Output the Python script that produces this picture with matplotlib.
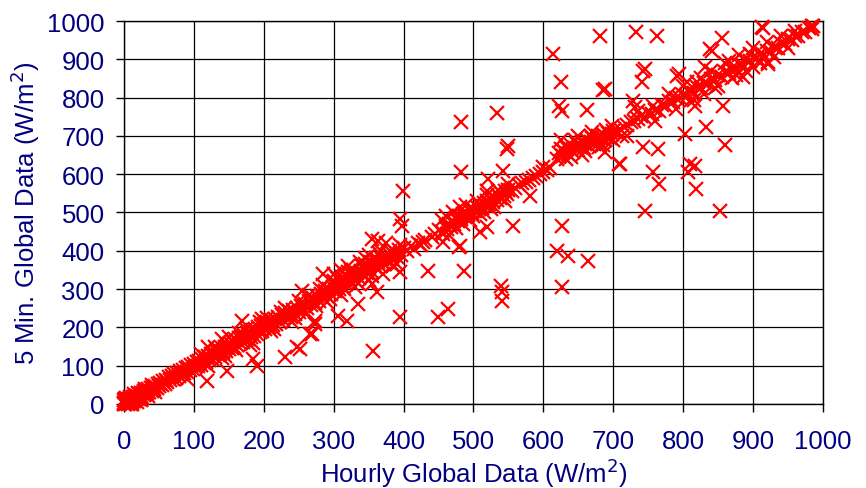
import matplotlib
matplotlib.use('Agg')
from matplotlib import pyplot as plt

# (hourly, 5 min) global irradiance pairs, W/m2
band_low = [
    (0, 2), (1, 5), (2, 0), (3, 8), (4, 3), (5, 10), (6, 4), (7, 12), (8, 6), (9, 2),
    (10, 14), (11, 9), (12, 5), (13, 17), (14, 11), (15, 8), (16, 20), (17, 13), (18, 15),
    (19, 22), (20, 17), (21, 12), (22, 25), (23, 19), (24, 28), (25, 21), (26, 16), (27, 30),
    (28, 24), (29, 33), (30, 26), (32, 35), (33, 28), (35, 38), (36, 31), (38, 42), (40, 35),
    (41, 44), (43, 39), (45, 48), (47, 41), (49, 52), (50, 46), (52, 55), (54, 49), (56, 60),
    (58, 53), (60, 63), (2, 12), (5, 0), (8, 18), (12, 0), (15, 25), (18, 4), (20, 30),
    (25, 10), (30, 40), (35, 22), (40, 50), (45, 32), (0, 0), (0, 10), (3, 15), (10, 0),
]
band_mid = [
    (62, 58), (64, 70), (66, 62), (68, 74), (70, 66), (72, 78), (74, 69), (76, 82), (78, 72),
    (80, 85), (82, 77), (84, 90), (86, 80), (88, 93), (90, 84), (92, 97), (94, 88), (96, 101),
    (98, 92), (100, 105), (102, 96), (104, 110), (106, 100), (108, 113), (110, 103), (112, 118),
    (114, 107), (116, 122), (118, 110), (120, 125), (122, 115), (124, 130), (126, 118),
    (128, 134), (130, 122), (132, 138), (134, 127), (136, 142), (138, 130), (140, 147),
    (142, 135), (144, 150), (146, 138), (148, 155), (150, 143), (152, 160), (154, 147),
    (156, 163), (158, 150), (160, 168), (162, 155), (164, 172), (166, 158), (168, 176),
    (170, 162), (172, 180), (174, 166), (176, 185), (178, 170), (180, 188), (182, 175),
    (184, 192), (186, 178), (188, 196), (190, 183), (192, 200), (194, 187), (196, 204),
    (198, 191), (200, 208), (202, 195), (205, 213), (208, 200), (210, 218), (213, 205),
    (216, 222), (218, 210), (220, 228), (223, 214), (226, 232), (228, 219), (231, 237),
    (234, 224), (236, 242), (239, 228), (242, 246), (245, 234), (248, 250), (250, 240),
    (253, 256), (256, 245), (259, 262), (262, 250), (265, 270), (268, 258), (270, 276),
    (273, 264), (276, 282), (279, 270), (282, 288), (285, 276), (288, 294), (290, 282),
    (293, 300), (296, 288), (299, 305), (302, 294), (305, 312), (308, 300), (310, 318),
    (313, 306), (316, 324), (318, 312), (321, 330), (324, 318), (327, 336), (330, 324),
    (333, 342), (336, 330), (339, 348), (342, 336), (345, 354), (348, 342), (351, 360),
    (354, 348), (357, 366), (360, 354), (363, 372), (366, 360), (369, 378), (372, 366),
    (375, 384), (378, 372), (381, 390), (384, 378), (387, 396), (390, 384), (393, 402),
    (396, 390), (400, 408),
    (110, 130), (120, 100), (140, 120), (150, 175), (160, 140), (175, 195), (185, 160),
    (205, 225), (215, 195), (225, 240), (240, 215), (250, 270), (260, 235), (280, 300),
    (290, 265), (300, 320), (310, 285), (320, 345), (330, 305), (340, 360), (350, 325),
    (360, 380), (370, 340), (380, 400), (390, 365), (120, 150), (140, 170), (300, 340),
    (310, 350), (320, 360), (345, 380), (350, 390), (355, 431), (363, 426), (375, 420),
    (130, 150), (145, 125), (165, 185), (180, 155), (195, 215), (210, 190), (230, 250),
    (245, 225), (265, 285), (275, 255), (285, 310), (295, 275), (305, 330), (315, 300),
    (325, 350), (335, 315), (345, 365), (355, 335), (365, 395), (385, 360), (395, 415),
    (298, 318), (312, 332), (328, 348), (338, 372), (352, 372), (368, 400),
]
band_high = [
    (405, 400), (410, 412), (415, 405), (420, 420), (425, 415), (430, 428), (440, 435),
    (445, 445), (450, 455), (455, 448), (460, 465), (462, 458), (465, 470), (468, 462),
    (470, 478), (472, 470), (475, 485), (478, 478), (480, 490), (482, 483), (485, 495),
    (488, 488), (490, 500), (492, 493), (495, 505), (498, 498), (500, 510), (502, 503),
    (505, 515), (508, 508), (510, 520), (512, 512), (515, 525), (518, 517), (520, 530),
    (522, 522), (525, 535), (528, 528), (530, 540), (533, 533), (535, 545), (538, 538),
    (540, 550), (543, 543), (545, 555), (548, 548), (550, 560), (555, 555), (560, 565),
    (565, 572), (570, 576), (575, 580), (580, 585), (585, 590), (590, 596), (595, 600),
    (600, 605), (605, 612), (610, 615),
    (470, 500), (480, 515), (490, 520), (500, 490), (505, 530), (510, 495), (520, 545),
    (525, 510), (530, 515), (535, 560), (545, 530), (550, 575), (455, 480), (465, 440),
    (475, 460), (485, 470), (495, 480), (515, 500), (460, 490), (520, 555),
    (620, 640), (622, 655), (625, 665), (628, 648), (630, 660), (632, 670), (635, 652),
    (638, 665), (640, 675), (642, 658), (645, 668), (648, 680), (650, 662), (652, 672),
    (655, 685), (658, 668), (660, 678), (662, 690), (665, 673), (668, 683), (670, 695),
    (672, 678), (675, 688), (678, 700), (680, 682), (682, 692), (685, 705), (688, 688),
    (690, 698), (692, 708), (695, 695), (698, 705), (700, 712), (705, 708), (710, 718),
    (715, 722), (720, 728), (725, 735), (730, 740), (735, 745), (740, 752), (745, 748),
    (750, 760), (755, 758), (760, 768), (765, 765), (770, 780), (775, 778), (780, 790),
    (785, 788), (790, 800), (795, 798), (800, 808), (805, 805), (810, 818), (815, 812),
    (820, 828), (825, 825), (830, 838), (835, 835), (840, 848), (845, 845), (850, 858),
    (855, 855), (860, 868), (865, 865), (870, 878), (875, 875), (880, 888), (885, 885),
    (890, 898), (895, 895), (900, 905), (905, 903), (910, 913), (915, 910), (920, 922),
    (925, 920), (930, 932), (935, 930), (940, 942), (945, 940), (950, 952), (955, 950),
    (960, 962), (965, 960), (970, 972), (975, 970), (980, 982), (985, 980),
    (625, 690), (640, 645), (650, 700), (660, 660), (670, 710), (680, 670), (690, 715),
    (700, 690), (720, 700), (735, 765), (760, 740), (780, 810), (790, 770), (800, 830),
    (810, 790), (820, 840), (830, 810), (840, 870), (850, 830), (860, 890), (870, 850),
    (880, 910), (890, 870), (900, 930), (910, 890), (920, 945), (930, 905), (940, 960),
    (950, 930), (960, 975), (900, 880), (880, 865),
    (632, 640), (645, 690), (655, 650), (668, 700), (685, 675), (698, 725), (712, 700),
    (805, 840), (815, 795), (825, 850), (845, 825), (865, 895), (875, 860), (895, 915),
]
outliers = [
    (681, 961), (614, 914), (625, 841), (685, 820), (622, 778), (627, 765), (662, 768),
    (482, 736), (533, 760), (549, 674), (710, 627), (482, 605), (399, 557), (395, 483),
    (398, 465), (435, 348), (486, 348), (557, 465), (627, 465), (619, 400), (635, 387),
    (664, 374), (539, 308), (541, 292), (627, 305), (481, 413), (457, 422), (509, 448),
    (521, 587), (542, 608), (732, 971), (762, 961), (855, 955), (914, 981), (985, 987),
    (841, 922), (745, 875), (741, 841), (794, 862), (831, 879), (921, 893), (886, 853),
    (688, 822), (728, 791), (731, 775), (757, 778), (817, 777), (857, 778), (803, 705),
    (833, 723), (860, 676), (743, 670), (764, 666), (688, 657), (708, 627), (757, 605),
    (766, 574), (810, 627), (817, 621), (807, 605), (818, 561), (745, 504), (853, 504),
    (548, 665), (395, 345), (541, 269), (464, 248), (449, 227), (395, 227), (356, 138),
    (335, 261), (319, 217), (306, 230), (269, 183), (273, 217), (252, 144), (362, 292),
    (355, 313), (479, 410), (428, 423), (456, 444), (519, 462), (169, 217), (197, 222),
    (185, 117), (190, 99), (230, 122), (247, 149), (266, 183), (273, 209), (119, 60),
    (147, 86), (90, 65), (255, 295), (285, 339), (742, 869), (791, 856), (581, 543),
    (600, 619), (838, 927), (913, 984), (986, 987), (921, 888),
]

ticks = list(range(0, 1001, 100))
navy = '#000080'

plt.rcParams['font.family'] = ['Liberation Sans', 'DejaVu Sans']
fig = plt.figure(figsize=(8.66, 4.89), dpi=100)
ax = fig.add_axes([0.1432, 0.1718, 0.8071, 0.7832])

pts = band_low + band_mid + band_high + outliers
hourly = [p[0] for p in pts]
five_min = [p[1] for p in pts]
ax.plot(hourly, five_min, linestyle='none', marker='x', color='#ff0000',
        markersize=9.5, markeredgewidth=1.6, clip_on=False, zorder=3)

ax.set_xlim(0, 1000)
ax.set_ylim(0, 1000)
ax.set_xticks(ticks)
ax.set_yticks(ticks)
ax.grid(True, color='black', linewidth=0.9)
ax.set_axisbelow(True)
for s in ax.spines.values():
    s.set_color('black')
    s.set_linewidth(1.0)
ax.tick_params(axis='both', direction='out', length=6, width=1, color='black',
               labelsize=18.5, labelcolor=navy)
ax.tick_params(axis='x', pad=12)
ax.tick_params(axis='y', pad=8)

ax.set_xlabel('Hourly Global Data (W/m$^2$)', fontsize=18.5, color=navy, labelpad=2)
ax.set_ylabel('5 Min. Global Data (W/m$^2$)', fontsize=18.5, color=navy, labelpad=4)

fig.savefig('out.png', dpi=100)
